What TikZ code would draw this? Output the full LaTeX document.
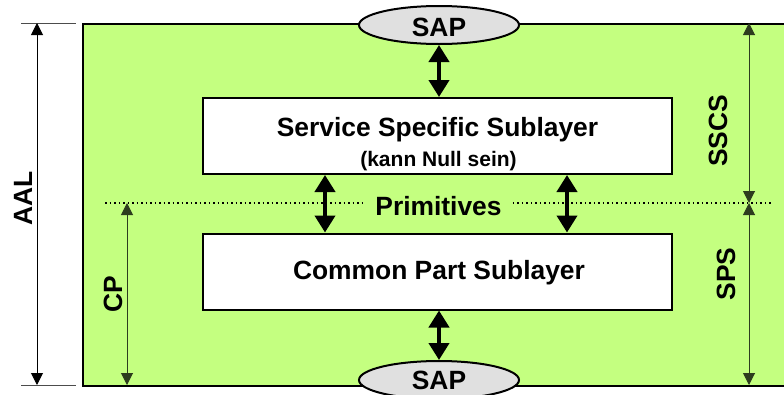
\documentclass[tikz,border=0pt]{standalone}
\usepackage{fontspec}
\setmainfont{Liberation Sans}
\usetikzlibrary{arrows.meta,shapes.geometric}
\definecolor{aalgreen}{RGB}{196,255,128}
\definecolor{sapgray}{RGB}{224,224,224}
\definecolor{dimline}{RGB}{45,60,30}

\begin{document}
\begin{tikzpicture}[x=1pt,y=-1pt,
  bigfont/.style={font=\fontsize{26.4}{31}\selectfont\bfseries},
  smallfont/.style={font=\fontsize{21}{25}\selectfont\bfseries},
  txt/.style={inner sep=0pt,anchor=base},
  sidelabel/.style={bigfont,inner sep=0pt,anchor=base,rotate=90},
  layerbox/.style={draw=black,line width=2pt,fill=white,rectangle,
    minimum width=469pt,minimum height=76pt,inner sep=0pt},
  sapnode/.style={draw=black,line width=2pt,fill=sapgray,ellipse,
    minimum width=160pt,minimum height=38pt,inner sep=0pt},
  bigarrow/.style={line width=4pt,
    {Triangle[width=20pt,length=17pt]}-{Triangle[width=20pt,length=17pt]}},
  dimarrow/.style={line width=1pt,draw=dimline,
    {Triangle[width=12pt,length=12pt]}-{Triangle[width=12pt,length=12pt]}},
  tick/.style={line width=1pt,draw=black!70},
  dotline/.style={line width=1.5pt,dash pattern=on 1.5pt off 3pt}
]
\clip (0,0) rectangle (784,394);

% AAL area
\node[draw=black,line width=2pt,fill=aalgreen,rectangle,anchor=north west,
  minimum width=720pt,minimum height=362pt,inner sep=0pt] (aal) at (82,23) {};

% sublayers
\node[layerbox] (sss) at (437.5,136) {};
\node[layerbox] (cps) at (437.5,271.5) {};
\node[txt,bigfont] (ssstxt) at (437.5,136) {Service Specific Sublayer};
\node[txt,smallfont] (ssssub) at (438.5,166) {(kann Null sein)};
\node[txt,bigfont] (cpstxt) at (439,279) {Common Part Sublayer};

% service access points
\node[sapnode] (sapT) at (439,25) {};
\node[txt,bigfont] (sapTtxt) at (439,36) {SAP};
\node[sapnode] (sapB) at (439,380) {};
\node[txt,bigfont] (sapBtxt) at (439,389) {SAP};

% primitives boundary
\node[txt,bigfont,inner xsep=11pt] (prim) at (438.5,215) {Primitives};
\coordinate (dl) at (105,203);
\coordinate (dr) at (772,203);
\draw[dotline] (dl) -- (dl -| prim.west);
\draw[dotline] (prim.east |- dr) -- (dr);

% interface arrows
\coordinate (pl) at (325,0);
\coordinate (pr) at (567,0);
\draw[bigarrow] (sapT.south) -- (sapT.south |- sss.north);
\draw[bigarrow] (sss.south -| pl) -- (cps.north -| pl);
\draw[bigarrow] (sss.south -| pr) -- (cps.north -| pr);
\draw[bigarrow] (sapB.north |- cps.south) -- (sapB.north);

% dimension lines
\coordinate (aalT) at (37,23);
\coordinate (aalB) at (37,385);
\draw[tick] (21,23) -- (76,23);
\draw[tick] (21,385) -- (76,385);
\draw[line width=1pt,{Triangle[width=12pt,length=12pt]}-{Triangle[width=12pt,length=12pt]}] (aalT) -- (aalB);
\node[sidelabel] (aallbl) at (32,198) {AAL};

\coordinate (cpT) at (127,203);
\coordinate (cpB) at (127,385);
\draw[dimarrow] (cpT) -- (cpB);
\node[sidelabel] (cplbl) at (122,294) {CP};

\coordinate (ssT) at (749,23);
\coordinate (ssM) at (749,203);
\coordinate (ssB) at (749,385);
\draw[dimarrow] (ssT) -- (ssM);
\draw[dimarrow] (ssM) -- (ssB);
\node[sidelabel] (sscslbl) at (727,131) {SSCS};
\node[sidelabel] (spslbl) at (735,274) {SPS};
\end{tikzpicture}
\end{document}
